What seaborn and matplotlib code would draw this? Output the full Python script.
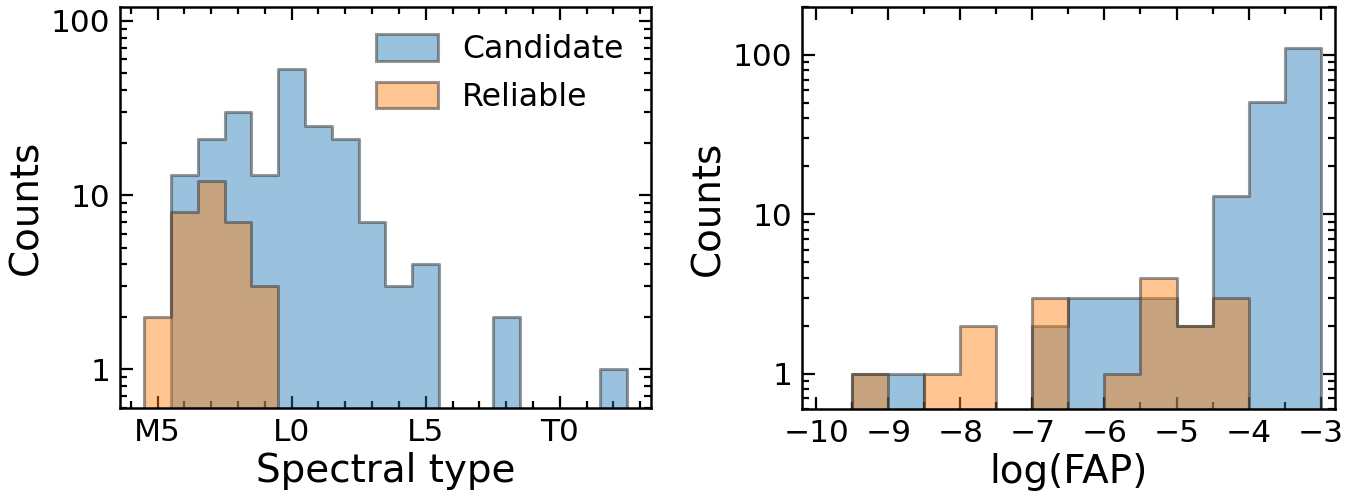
import numpy as np
import pandas as pd
import matplotlib
matplotlib.use("Agg")
import matplotlib.pyplot as plt
import matplotlib.ticker as mticker
import seaborn as sns

# ---- data ----
# Left panel: spectral type index (0 = M5, 5 = L0, 10 = L5, 15 = T0), one bin per subtype
spt_centers = list(range(18))
spt_candidate = [0, 13, 21, 30, 13, 53, 25, 21, 7, 3, 4, 0, 0, 2, 0, 0, 0, 1]
spt_reliable = [2, 8, 12, 7, 3, 0, 0, 0, 0, 0, 0, 0, 0, 0, 0, 0, 0, 0]
spt_tick_pos = [0, 5, 10, 15]
spt_tick_labels = ["M5", "L0", "L5", "T0"]

# Right panel: log(FAP) bins of width 0.5 (centers)
fap_centers = [-9.25, -8.75, -8.25, -7.75, -7.25, -6.75, -6.25,
               -5.75, -5.25, -4.75, -4.25, -3.75, -3.25]
fap_candidate = [1, 1, 0, 0, 0, 2, 3, 3, 3, 2, 13, 51, 110]
fap_reliable = [1, 0, 1, 2, 0, 3, 0, 1, 4, 2, 3, 0, 0]

series_names = ["Candidate", "Reliable"]
series_colors = ["tab:blue", "tab:orange"]

sns.set_theme(style="ticks", rc={
    "axes.edgecolor": "black", "text.color": "black",
    "axes.labelcolor": "black", "xtick.color": "black", "ytick.color": "black",
})
plt.rcParams["font.family"] = ["DejaVu Sans"]

fig = plt.figure(figsize=(13.65, 4.96), dpi=100)
ax1 = fig.add_axes([0.0879, 0.1774, 0.389, 0.8085])
ax2 = fig.add_axes([0.5875, 0.1754, 0.3905, 0.8105])

hist_kw = dict(element="step", fill=True, alpha=0.45, edgecolor=(0.2, 0.2, 0.2, 0.5),
               linewidth=2.2, stat="count")

spt_bins = [c - 0.5 for c in spt_centers] + [spt_centers[-1] + 0.5]
for vals, name, col in zip([spt_candidate, spt_reliable], series_names, series_colors):
    df = pd.DataFrame({"x": spt_centers, "w": vals})
    sns.histplot(data=df, x="x", weights="w", bins=spt_bins, color=col,
                 label=name, ax=ax1, **hist_kw)

fap_bins = [c - 0.25 for c in fap_centers] + [fap_centers[-1] + 0.25]
for vals, name, col in zip([fap_candidate, fap_reliable], series_names, series_colors):
    df = pd.DataFrame({"x": fap_centers, "w": vals})
    sns.histplot(data=df, x="x", weights="w", bins=fap_bins, color=col,
                 label=name, ax=ax2, **hist_kw)

for ax in (ax1, ax2):
    ax.set_yscale("log")
    ax.yaxis.set_major_locator(mticker.LogLocator(base=10))
    ax.yaxis.set_major_formatter(mticker.FormatStrFormatter("%g"))
    ax.yaxis.set_minor_locator(mticker.LogLocator(base=10, subs=np.arange(2, 10)))
    ax.yaxis.set_minor_formatter(mticker.NullFormatter())
    ax.tick_params(which="both", direction="in", top=True, right=True,
                   labelsize=22.5, width=1.6, color="black", labelcolor="black")
    ax.tick_params(which="major", length=9, pad=7)
    ax.tick_params(which="minor", length=5)
    for sp in ax.spines.values():
        sp.set_linewidth(1.8)
        sp.set_color("black")
    ax.set_ylabel("Counts", fontsize=28)

ax1.set_ylim(0.6, 120)
ax1.set_xlim(-1.4, 18.4)
ax1.set_xticks(spt_tick_pos)
ax1.set_xticklabels(spt_tick_labels)
ax1.xaxis.set_minor_locator(mticker.MultipleLocator(1))
ax1.set_xlabel("Spectral type", fontsize=28)
ax1.legend(loc="upper right", frameon=False, fontsize=22.7, handlelength=1.95,
           handleheight=0.9, borderaxespad=0.47, labelspacing=0.53,
           handletextpad=0.78)

ax2.set_ylim(0.6, 200)
ax2.set_xlim(-10.2, -2.8)
ax2.xaxis.set_major_locator(mticker.MultipleLocator(1))
ax2.xaxis.set_minor_locator(mticker.MultipleLocator(0.5))
ax2.set_xlabel("log(FAP)", fontsize=28)

fig.savefig("out.png", dpi=100)
